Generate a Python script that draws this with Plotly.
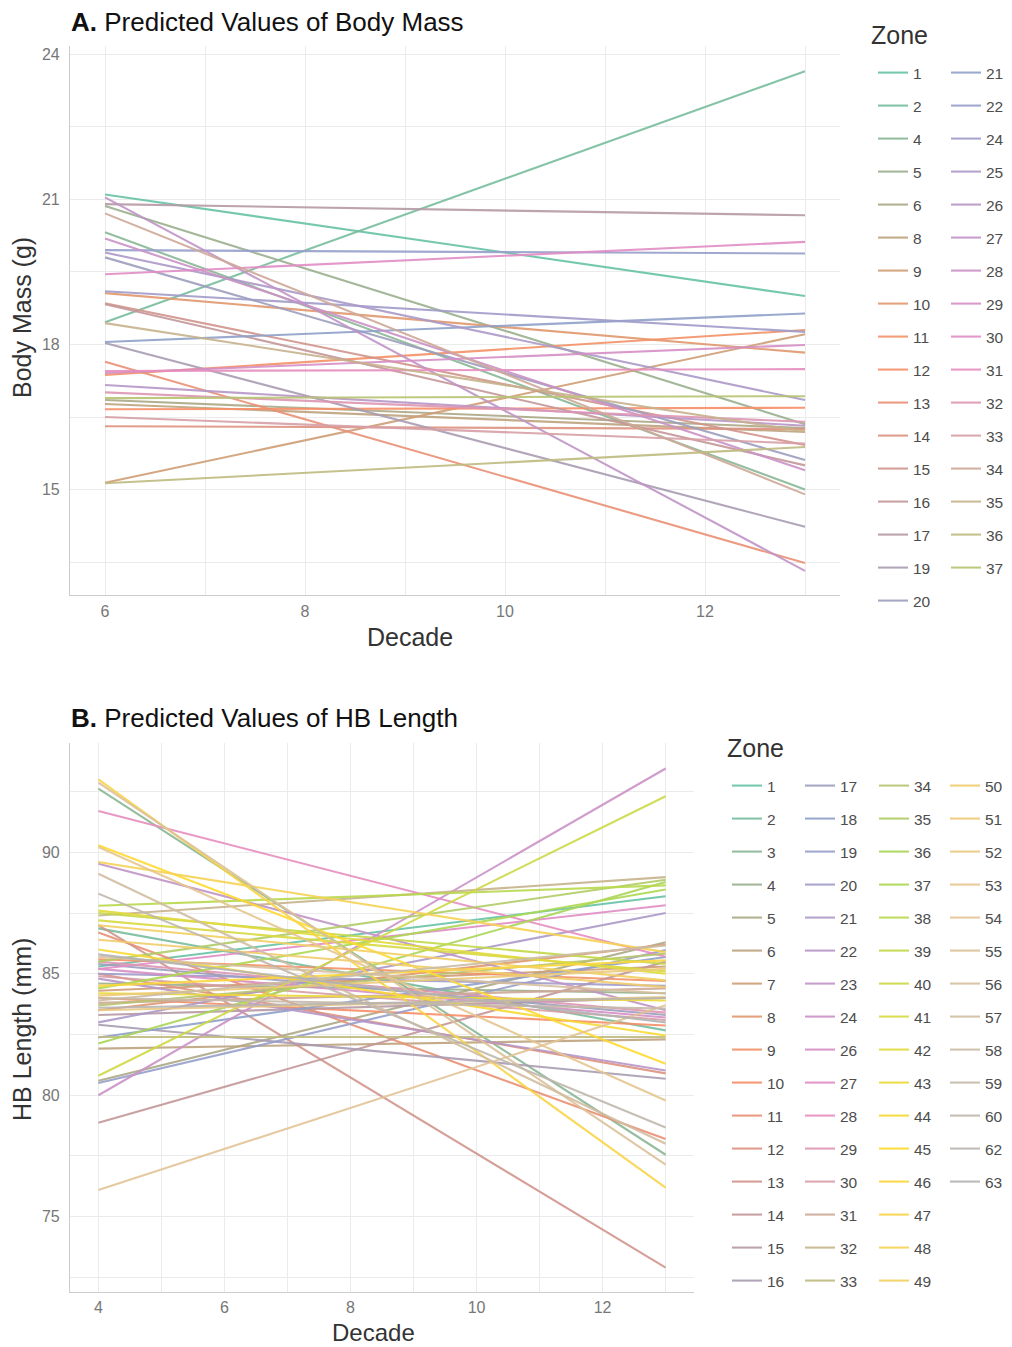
import plotly.graph_objects as go

# ---------------- data ----------------
decade_a = [6, 13]
zones_a = [1, 2, 4, 5, 6, 8, 9, 10, 11, 12, 13, 14, 15, 16, 17, 19, 20,
           21, 22, 24, 25, 26, 27, 28, 29, 30, 31, 32, 33, 34, 35, 36, 37]
mass_start = [21.10, 18.46, 20.32, 20.86, 16.85, 16.77, 15.14, 19.06, 17.37, 16.66, 17.64, 16.31, 18.85, 18.83, 20.90, 18.03, 19.80,
              18.05, 19.95, 19.10, 19.90, 17.16, 21.04, 20.19, 17.41, 19.45, 17.45, 17.01, 16.50, 20.71, 18.44, 15.13, 16.89]
mass_end = [19.00, 23.65, 15.00, 16.35, 16.27, 16.19, 18.21, 17.83, 18.30, 16.69, 13.48, 16.25, 15.92, 15.50, 20.67, 14.23, 15.61,
            18.64, 19.88, 18.26, 16.85, 16.32, 13.32, 15.40, 17.99, 20.12, 17.49, 16.40, 15.95, 14.90, 16.20, 15.88, 16.93]

decade_b = [4, 13]
zones_b = [1, 2, 3, 4, 5, 6, 7, 8, 9, 10, 11, 12, 13, 14, 15, 16,
           17, 18, 19, 20, 21, 22, 23, 24, 26, 27, 28, 29, 30, 31, 32, 33,
           34, 35, 36, 37, 38, 39, 40, 41, 42, 43, 44, 45, 46, 47, 48, 49,
           50, 51, 52, 53, 54, 55, 56, 57, 58, 59, 60, 62, 63]
hb_start = [85.3, 86.87, 92.62, 84.6, 80.6, 81.92, 84.3, 83.5, 85.6, 84.0, 86.7, 85.0, 87.0, 78.87, 83.3, 82.9,
            85.4, 82.38, 80.5, 85.0, 83.0, 84.8, 89.53, 80.0, 85.2, 85.2, 91.7, 85.5, 84.9, 83.8, 87.4, 82.4,
            83.7, 85.5, 82.13, 84.4, 87.8, 87.5, 80.8, 87.2, 87.6, 84.2, 86.0, 90.29, 84.5, 93.0, 89.6, 87.0,
            86.4, 84.1, 83.5, 90.22, 76.1, 92.87, 85.7, 89.12, 83.9, 84.0, 88.3, 83.6, 85.8]
hb_end = [88.19, 82.67, 77.55, 84.2, 86.3, 82.3, 85.3, 86.2, 84.7, 82.87, 78.2, 80.9, 72.9, 85.5, 84.0, 80.68,
          83.3, 85.69, 85.98, 84.5, 87.5, 81.02, 83.5, 93.45, 83.2, 87.82, 85.7, 83.4, 83.1, 84.4, 88.98, 82.4,
          85.83, 88.87, 88.78, 88.47, 88.64, 85.4, 92.31, 85.1, 85.0, 83.9, 82.46, 81.3, 85.55, 76.2, 85.89, 84.73,
          84.45, 85.2, 84.04, 79.78, 83.7, 77.14, 84.19, 78.0, 86.17, 83.57, 78.67, 84.0, 83.0]

# ---------------- style ----------------
SET2 = ["#66C2A5", "#FC8D62", "#8DA0CB", "#E78AC3", "#A6D854", "#FFD92F", "#E5C494", "#B3B3B3"]
ALPHA = 0.9


def ramp(n):
    rgb = [tuple(int(h[i:i + 2], 16) for i in (1, 3, 5)) for h in SET2]
    out = []
    for i in range(n):
        p = i * (len(rgb) - 1) / (n - 1)
        k = min(int(p), len(rgb) - 2)
        t = p - k
        c = [round(rgb[k][j] * (1 - t) + rgb[k + 1][j] * t) for j in range(3)]
        out.append(f"rgba({c[0]},{c[1]},{c[2]},{ALPHA})")
    return out


pal = ramp(len(zones_b))
FONT = "Liberation Sans, Arial, Helvetica, sans-serif"
W, H = 1012, 1347
GRID = "#ebebeb"
AXL = "#cccccc"
TICKC = "#777777"
TITLEC = "#333333"
LW = 2.1

fig = go.Figure()

for i, z in enumerate(zones_a):
    leg = "legend" if i < 17 else "legend2"
    fig.add_trace(go.Scatter(
        x=decade_a, y=[mass_start[i], mass_end[i]], mode="lines",
        line=dict(color=pal[i], width=LW), name=str(z),
        legendgroup="a" + str(z), legend=leg, xaxis="x", yaxis="y",
        hoverinfo="skip"))

bounds = [0, 16, 32, 48, 61]
for i, z in enumerate(zones_b):
    col = 0
    while i >= bounds[col + 1]:
        col += 1
    leg = "legend" + str(3 + col)
    fig.add_trace(go.Scatter(
        x=decade_b, y=[hb_start[i], hb_end[i]], mode="lines",
        line=dict(color=pal[i], width=LW), name=str(z),
        legendgroup="b" + str(z), legend=leg, xaxis="x2", yaxis="y2",
        hoverinfo="skip"))


def px_x(p):
    return p / W


def px_y(p):
    return 1 - p / H


axis_common = dict(showgrid=True, gridcolor=GRID, gridwidth=1, zeroline=False,
                   showline=True, linecolor=AXL, linewidth=1.2, ticks="",
                   tickfont=dict(size=16, color=TICKC, family=FONT))

fig.update_layout(
    xaxis=dict(domain=[px_x(70), px_x(840)], range=[5.65, 13.35], tickvals=[6, 8, 10, 12],
               minor=dict(dtick=1, tick0=0, showgrid=True, gridcolor=GRID, gridwidth=1),
               anchor="y", ticklabelstandoff=2, **axis_common),
    yaxis=dict(domain=[px_y(595), px_y(46)], range=[12.82, 24.17], tickvals=[15, 18, 21, 24],
               minor=dict(dtick=1.5, tick0=0, showgrid=True, gridcolor=GRID, gridwidth=1),
               anchor="x", ticklabelstandoff=6, **axis_common),
    xaxis2=dict(domain=[px_x(70), px_x(694)], range=[3.55, 13.45], tickvals=[4, 6, 8, 10, 12],
                minor=dict(dtick=1, tick0=0, showgrid=True, gridcolor=GRID, gridwidth=1),
                anchor="y2", ticklabelstandoff=1, **axis_common),
    yaxis2=dict(domain=[px_y(1292), px_y(743)], range=[71.9, 94.5], tickvals=[75, 80, 85, 90],
                minor=dict(dtick=2.5, tick0=0, showgrid=True, gridcolor=GRID, gridwidth=1),
                anchor="x2", ticklabelstandoff=6, **axis_common),
)

leg_common = dict(xanchor="left", yanchor="top", traceorder="grouped", tracegroupgap=9.85,
                  font=dict(size=15.5, color="#4d4d4d", family=FONT),
                  bgcolor="rgba(0,0,0,0)", borderwidth=0, itemwidth=30, itemclick=False,
                  itemdoubleclick=False)

TOP_A = 56
TOP_B = 769
fig.update_layout(
    legend=dict(x=px_x(873), y=px_y(TOP_A), **leg_common),
    legend2=dict(x=px_x(946), y=px_y(TOP_A), **leg_common),
    legend3=dict(x=px_x(727), y=px_y(TOP_B), **leg_common),
    legend4=dict(x=px_x(800), y=px_y(TOP_B), **leg_common),
    legend5=dict(x=px_x(874), y=px_y(TOP_B), **leg_common),
    legend6=dict(x=px_x(945), y=px_y(TOP_B), **leg_common),
)

annots = [
    dict(text="<b>A.</b> Predicted Values of Body Mass", x=px_x(69), y=px_y(22),
         xanchor="left", yanchor="middle", font=dict(size=26, color="#111111")),
    dict(text="<b>B.</b> Predicted Values of HB Length", x=px_x(69), y=px_y(718),
         xanchor="left", yanchor="middle", font=dict(size=26, color="#111111")),
    dict(text="Body Mass (g)", x=px_x(22), y=px_y(318), textangle=-90,
         xanchor="center", yanchor="middle", font=dict(size=25, color=TITLEC)),
    dict(text="Decade", x=px_x(410), y=px_y(637),
         xanchor="center", yanchor="middle", font=dict(size=25, color=TITLEC)),
    dict(text="HB Length (mm)", x=px_x(22), y=px_y(1030), textangle=-90,
         xanchor="center", yanchor="middle", font=dict(size=25, color=TITLEC)),
    dict(text="Decade", x=px_x(373), y=px_y(1332),
         xanchor="center", yanchor="middle", font=dict(size=24, color=TITLEC)),
    dict(text="Zone", x=px_x(869), y=px_y(35),
         xanchor="left", yanchor="middle", font=dict(size=25, color=TITLEC)),
    dict(text="Zone", x=px_x(725), y=px_y(748),
         xanchor="left", yanchor="middle", font=dict(size=25, color=TITLEC)),
]
for a in annots:
    a.update(xref="paper", yref="paper", showarrow=False)
    a["font"]["family"] = FONT

fig.update_layout(
    annotations=annots,
    width=W, height=H, autosize=False,
    margin=dict(l=0, r=0, t=0, b=0, pad=0),
    paper_bgcolor="white", plot_bgcolor="white",
    font=dict(family=FONT),
    showlegend=True,
)

fig.write_html("out.html", config={"displayModeBar": False, "responsive": False},
               post_script="document.body.style.margin='0';")
